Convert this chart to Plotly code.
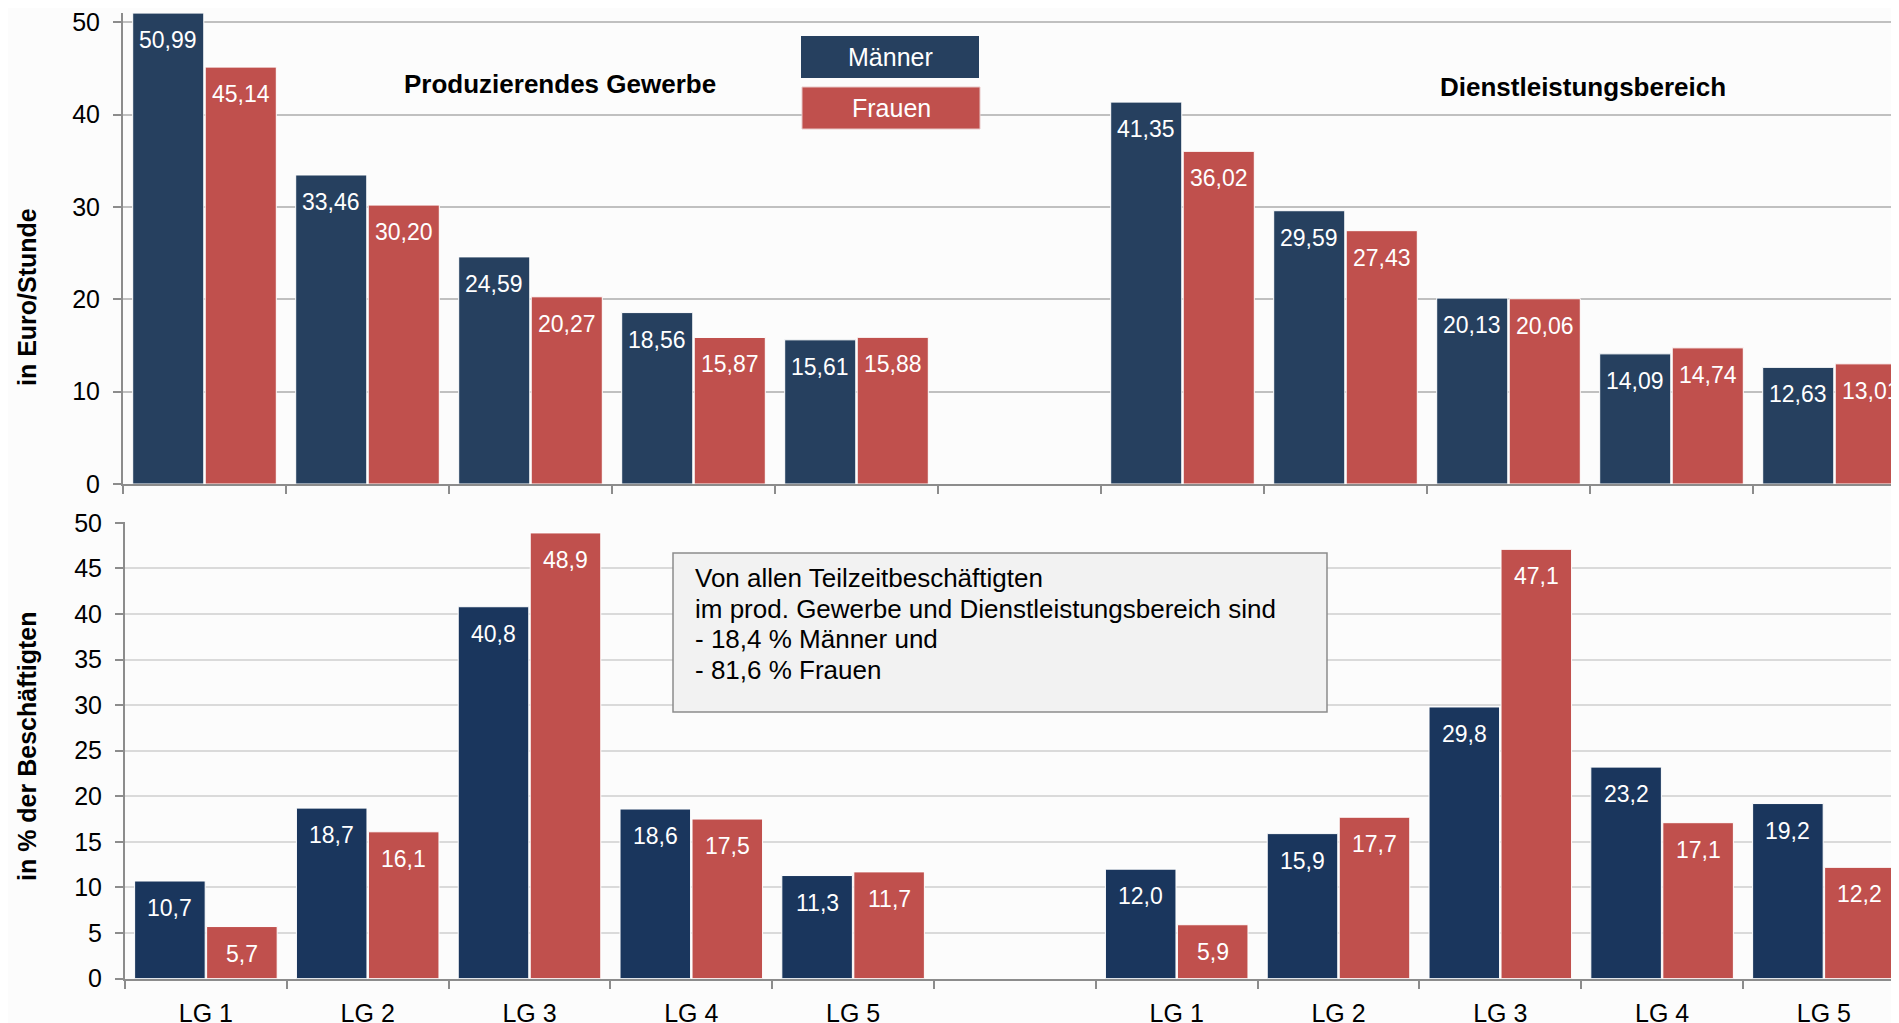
import plotly.graph_objects as go

# ---------------- data ----------------
categories = ["P1", "P2", "P3", "P4", "P5", "gap", "D1", "D2", "D3", "D4", "D5"]
tick_labels = ["LG 1", "LG 2", "LG 3", "LG 4", "LG 5", "", "LG 1", "LG 2", "LG 3", "LG 4", "LG 5"]

wage_men = [50.99, 33.46, 24.59, 18.56, 15.61, None, 41.35, 29.59, 20.13, 14.09, 12.63]
wage_women = [45.14, 30.20, 20.27, 15.87, 15.88, None, 36.02, 27.43, 20.06, 14.74, 13.01]

share_men = [10.7, 18.7, 40.8, 18.6, 11.3, None, 12.0, 15.9, 29.8, 23.2, 19.2]
share_women = [5.7, 16.1, 48.9, 17.5, 11.7, None, 5.9, 17.7, 47.1, 17.1, 12.2]

section_titles = ["Produzierendes Gewerbe", "Dienstleistungsbereich"]
series_names = ["Männer", "Frauen"]
info_lines = [
    "Von allen Teilzeitbeschäftigten",
    "im prod. Gewerbe und Dienstleistungsbereich sind",
    "- 18,4 % Männer und",
    "- 81,6 % Frauen",
]

# ---------------- style ----------------
W, H = 1899, 1023
OFF = 8            # page (body) offset of the figure
ML = 123 - OFF
PW = W - ML
FONT = "Liberation Sans, Arial, sans-serif"
MEN_TOP = "#26405F"
MEN_BOT = "#1A365D"
WOMEN = "#C0504D"
BG = "#FCFCFC"
BARGAP = 0.11
BARGROUPGAP = 0.02


def px(xp):
    """reference page x -> paper fraction"""
    return (xp - OFF - ML) / PW


def py(yp):
    """reference page y -> paper fraction"""
    return 1 - (yp - OFF) / H


def fmt(v, d):
    return f"{v:.{d}f}".replace(".", ",")


top_pxcat = 163.0
bot_pxcat = 161.8
top_range = [-0.5, -0.5 + PW / top_pxcat]
bot_dom0 = 2 / PW
bot_range = [-0.5, -0.5 + (PW - 2) / bot_pxcat]

fig = go.Figure()

line = dict(color="white", width=1)
fig.add_trace(go.Bar(x=categories, y=wage_men, name=series_names[0], marker_color=MEN_TOP,
                     marker_line=line, xaxis="x", yaxis="y", showlegend=False))
fig.add_trace(go.Bar(x=categories, y=wage_women, name=series_names[1], marker_color=WOMEN,
                     marker_line=line, xaxis="x", yaxis="y", showlegend=False))
fig.add_trace(go.Bar(x=categories, y=share_men, name=series_names[0], marker_color=MEN_BOT,
                     marker_line=line, xaxis="x2", yaxis="y2", showlegend=False))
fig.add_trace(go.Bar(x=categories, y=share_women, name=series_names[1], marker_color=WOMEN,
                     marker_line=line, xaxis="x2", yaxis="y2", showlegend=False))

annotations = []


def add_labels(vals, xref, yref, side, pxcat, decimals):
    off = (1 - BARGAP) / 4 * pxcat
    for c, v in zip(categories, vals):
        if v is None:
            continue
        annotations.append(dict(
            x=c, y=v, xref=xref, yref=yref, xshift=side * off, yshift=-12,
            yanchor="top", xanchor="center", showarrow=False,
            text=fmt(v, decimals), font=dict(family=FONT, size=23, color="white")))


add_labels(wage_men, "x", "y", -1, top_pxcat, 2)
add_labels(wage_women, "x", "y", 1, top_pxcat, 2)
add_labels(share_men, "x2", "y2", -1, bot_pxcat, 1)
add_labels(share_women, "x2", "y2", 1, bot_pxcat, 1)


def paper_text(xp, yp, text, size, color="black", bold=False, angle=0, xanchor="center"):
    annotations.append(dict(
        x=px(xp), y=py(yp), xref="paper", yref="paper", showarrow=False,
        xanchor=xanchor, yanchor="middle", textangle=angle, align="left",
        text=f"<b>{text}</b>" if bold else text,
        font=dict(family=FONT, size=size, color=color)))


# section titles
paper_text(560, 84, section_titles[0], 26, bold=True)
paper_text(1583, 87, section_titles[1], 26, bold=True)

# y axis titles
paper_text(27, 297, "in Euro/Stunde", 25, bold=True, angle=-90)
paper_text(27, 746, "in % der Beschäftigten", 25, bold=True, angle=-90)

# legend boxes + info box
shapes = [
    dict(type="rect", xref="paper", yref="paper", x0=px(801), x1=px(979), y0=py(78), y1=py(36),
         fillcolor=MEN_TOP, line=dict(width=0), layer="above"),
    dict(type="rect", xref="paper", yref="paper", x0=px(802), x1=px(980), y0=py(129), y1=py(87),
         fillcolor=WOMEN, line=dict(color="#E8C8C8", width=1), layer="above"),
    dict(type="rect", xref="paper", yref="paper", x0=px(673), x1=px(1327), y0=py(712), y1=py(553),
         fillcolor="#F2F2F2", line=dict(color="#8C8C8C", width=1.5), layer="above"),
]
paper_text(890, 57, series_names[0], 25, color="white")
paper_text(891, 108, series_names[1], 25, color="white")

# info box text, one line each
for yl, t in zip([578, 609, 639, 670], info_lines):
    paper_text(693, yl, t, 26, xanchor="left")

axis_common = dict(showline=True, linecolor="#8C8C8C", linewidth=2, ticks="outside",
                   tickcolor="#8C8C8C", tickwidth=2, ticklen=8,
                   tickfont=dict(family=FONT, size=25, color="black"))

fig.update_layout(
    width=W, height=H,
    margin=dict(l=ML, r=0, t=0, b=0, autoexpand=False),
    paper_bgcolor=BG, plot_bgcolor=BG,
    barmode="group", bargap=BARGAP, bargroupgap=BARGROUPGAP,
    showlegend=False,
    xaxis=dict(anchor="y", domain=[0, 1], type="category", categoryorder="array", categoryarray=categories,
               range=top_range, tickson="boundaries", showticklabels=False, showgrid=False,
               **axis_common),
    yaxis=dict(anchor="x", domain=[py(484), py(13)], range=[0, 51], dtick=10, tick0=0,
               showgrid=True, gridcolor="#C0C0C0", gridwidth=1.5, zeroline=False,
               ticklabelstandoff=8, ticklabeloverflow="allow", **axis_common),
    xaxis2=dict(anchor="y2", domain=[bot_dom0, 1], type="category", categoryorder="array",
                categoryarray=categories, tickmode="array", tickvals=categories, ticktext=tick_labels,
                range=bot_range, tickson="boundaries", showgrid=False, ticklabelstandoff=11,
                ticklabeloverflow="allow", **axis_common),
    yaxis2=dict(anchor="x2", domain=[py(978.5), py(522)], range=[0, 50.1], dtick=5, tick0=0,
                showgrid=True, gridcolor="#DADADA", gridwidth=2, zeroline=False,
                ticklabelstandoff=8, ticklabeloverflow="allow", **axis_common),
    annotations=annotations,
    shapes=shapes,
)

fig.write_html("out.html")
